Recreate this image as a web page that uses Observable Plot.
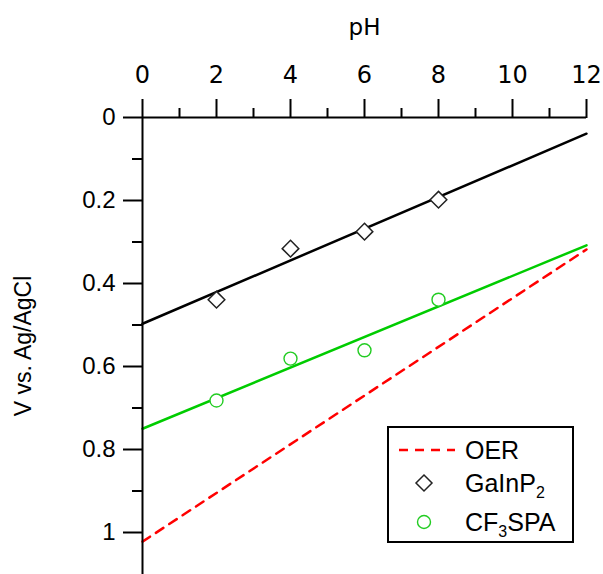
<!DOCTYPE html>
<html>
<head>
<meta charset="utf-8">
<script src="https://cdn.jsdelivr.net/npm/d3@7"></script>
<script src="https://cdn.jsdelivr.net/npm/@observablehq/plot@0.6"></script>
<style>
  html, body { margin: 0; padding: 0; background: #fff; }
  #wrap { position: relative; width: 603px; height: 574px; overflow: hidden; }
  #wrap svg g[aria-label$="tick"] { stroke-width: 2px; }
  #wrap svg g[aria-label$="tick label"] { font-size: 24px; }
  #wrap svg g[aria-label="y-axis label"] { font-size: 23px; }
  #wrap svg g[aria-label="x-axis label"] { font-family: "DejaVu Sans", sans-serif; font-size: 23px; }
  #legend { position: absolute; left: 387px; top: 426px; width: 183px; height: 113px;
    border: 2px solid #000; background: #fff; font-family: "Liberation Sans", Arial, sans-serif; font-size: 25px; }
  #legend .row { position: absolute; left: 0; height: 30px; line-height: 30px; }
  #legend .lbl { position: absolute; left: 76px; white-space: nowrap; }
  #legend sub { font-size: 16px; vertical-align: -6px; line-height: 0; }
</style>
</head>
<body>
<div id="wrap"></div>
<script>
// Data
const pH = [2, 4, 6, 8];
const gainp2 = [0.439, 0.316, 0.275, 0.198];
const cf3spa = [0.682, 0.581, 0.561, 0.439];
const fitX = [0, 12];
const gainp2Fit = [0.497, 0.039];
const cf3spaFit = [0.750, 0.308];
const oerLine = [1.022, 0.318];
const xMajor = [0, 2, 4, 6, 8, 10, 12];
const xMinor = [1, 3, 5, 7, 9, 11];
const yMajor = [0, 0.2, 0.4, 0.6, 0.8, 1];
const yMinor = [0.1, 0.3, 0.5, 0.7, 0.9];

const ptsG = pH.map((x, i) => ({x, y: gainp2[i]}));
const ptsC = pH.map((x, i) => ({x, y: cf3spa[i]}));
const lineOf = (ys) => fitX.map((x, i) => ({x, y: ys[i]}));

const chart = Plot.plot({
  width: 603,
  height: 574,
  marginLeft: 142,
  marginRight: 17,
  marginTop: 117,
  marginBottom: 0,
  style: { fontFamily: "'Liberation Sans', Arial, sans-serif", fontSize: "24px", background: "white", color: "black" },
  x: { domain: [0, 12] },
  y: { domain: [0, 1.1012], reverse: true },
  marks: [
    Plot.line(lineOf(oerLine), {x: "x", y: "y", stroke: "#ff0000", strokeWidth: 2.5, strokeDasharray: "9,7"}),
    Plot.line(lineOf(gainp2Fit), {x: "x", y: "y", stroke: "#000", strokeWidth: 2.5}),
    Plot.line(lineOf(cf3spaFit), {x: "x", y: "y", stroke: "#00cc00", strokeWidth: 2.5}),
    Plot.dot(ptsG, {x: "x", y: "y", symbol: "diamond2", r: 7.5, stroke: "#222", strokeWidth: 1.5, fill: "white"}),
    Plot.dot(ptsC, {x: "x", y: "y", symbol: "circle", r: 6.5, stroke: "#22cc22", strokeWidth: 1.4, fill: "white"}),
    Plot.ruleY([0], {stroke: "#000", strokeWidth: 2}),
    Plot.ruleX([0], {stroke: "#000", strokeWidth: 2}),
    Plot.axisX(xMajor, {anchor: "top", tickSize: 19, strokeWidth: 2, label: "pH", labelAnchor: "center", labelArrow: "none", labelOffset: 99, tickFormat: () => ""}),
    Plot.text(xMajor, {x: d => d, frameAnchor: "top", lineAnchor: "bottom", dy: -35, text: d => String(d), fontFamily: "DejaVu Sans, sans-serif", fontSize: 24, fill: "black"}),
    Plot.axisX(xMinor, {anchor: "top", tickSize: 10, strokeWidth: 2, label: null, tickFormat: () => ""}),
    Plot.axisY(yMajor, {anchor: "left", tickSize: 19, tickPadding: 8, strokeWidth: 2, label: "V vs. Ag/AgCl", labelAnchor: "center", labelArrow: "none", labelOffset: 128, tickFormat: d => String(d)}),
    Plot.axisY(yMinor, {anchor: "left", tickSize: 10, strokeWidth: 2, label: null, tickFormat: () => ""})
  ]
});
document.getElementById("wrap").appendChild(chart);

// Legend
const legend = document.createElement("div");
legend.id = "legend";
legend.innerHTML = `
  <div class="row" style="top:7px;width:100%">
    <svg width="70" height="30" style="position:absolute;left:8px;top:0"><line x1="2" y1="15" x2="58" y2="15" stroke="#ff0000" stroke-width="2.5" stroke-dasharray="9,7"/></svg>
    <span class="lbl">OER</span></div>
  <div class="row" style="top:40px;width:100%">
    <svg width="70" height="30" style="position:absolute;left:8px;top:0"><path d="M27,7 L35,15 L27,23 L19,15 Z" fill="white" stroke="#222" stroke-width="1.5"/></svg>
    <span class="lbl">GaInP<sub>2</sub></span></div>
  <div class="row" style="top:79px;width:100%">
    <svg width="70" height="30" style="position:absolute;left:8px;top:0"><circle cx="27" cy="15" r="6.5" fill="white" stroke="#22cc22" stroke-width="1.4"/></svg>
    <span class="lbl">CF<sub>3</sub>SPA</span></div>`;
document.getElementById("wrap").appendChild(legend);
</script>
</body>
</html>
